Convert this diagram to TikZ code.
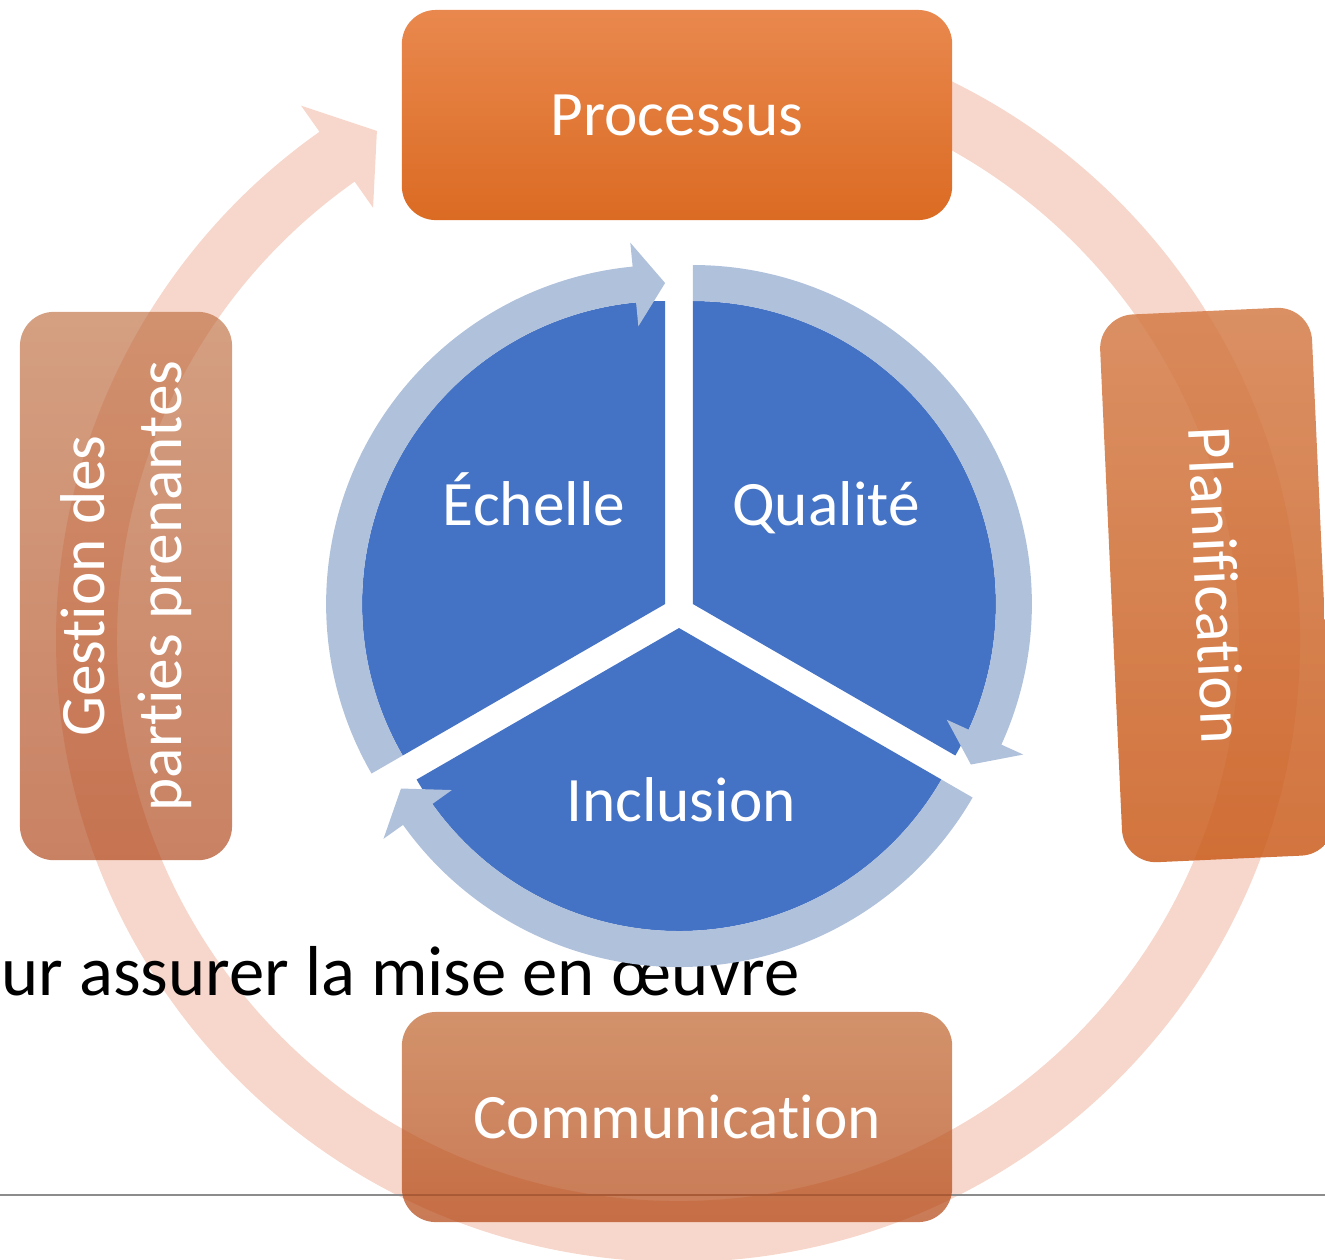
\documentclass[tikz,border=0pt]{standalone}
\usepackage{fontspec}
\setmainfont{Carlito}[Ligatures=NoCommon]
\usetikzlibrary{positioning}

\definecolor{ringpink}{RGB}{247,215,203}
\definecolor{pieblue}{RGB}{68,114,196}
\definecolor{arrowblue}{RGB}{176,193,220}
\definecolor{rulegray}{RGB}{140,140,140}
\definecolor{procTop}{RGB}{233,136,78}
\definecolor{procBot}{RGB}{219,107,35}
\definecolor{planTop}{RGB}{212,124,72}
\definecolor{planBot}{RGB}{202,92,28}
\definecolor{commTop}{RGB}{192,100,44}
\definecolor{commBot}{RGB}{178,66,14}
\definecolor{gestTop}{RGB}{190,108,62}
\definecolor{gestBot}{RGB}{172,62,16}

\begin{document}
\begin{tikzpicture}[x=0.01cm, y=0.01cm,
	box/.style={rectangle, rounded corners=0.34cm, inner sep=0pt, align=center,
		text=white, font=\fontsize{18}{22}\selectfont},
	wide/.style={box, minimum width=5.5cm, minimum height=2.1cm},
	tall/.style={box, minimum width=5.48cm, minimum height=2.12cm},
	pielabel/.style={text=white, font=\fontsize{18}{22}\selectfont, inner sep=0pt}]
\useasboundingbox (0,0) rectangle (1325,-1259);

% outer cycle arrow
\begin{scope}[shift={(678,-640)}]
\fill[ringpink] (90:622) arc[start angle=90, end angle=-234.8, radius=622]
	-- (-234.8:654) -- (-239.4:591.5) -- (-234.8:529)
	-- (-234.8:561) arc[start angle=-234.8, end angle=90, radius=561] -- cycle;
\end{scope}

\coordinate (rule w) at (0,-1195);
\coordinate (rule e) at (1325,-1195);
\draw[rulegray, line width=0.8pt] (rule w) -- (rule e);

\node[anchor=base west, inner sep=0pt, font=\fontsize{20.1}{24}\selectfont] (caption) at (1,-995) {ur assurer la mise en œuvre};

% pie
\foreach \b/\cx/\cy in {150/665.1/-604, 30/692.9/-604, 270/679/-628}{
	\begin{scope}[shift={(\cx,\cy)}]
	\pgfmathsetmacro\s{\b+60}
	\pgfmathsetmacro\e{\b-60}
	\fill[pieblue] (0,0) -- (\s:303) arc[start angle=\s, end angle=\e, radius=303] -- cycle;
	\end{scope}
}
\foreach \b/\cx/\cy in {150/665.1/-604, 30/692.9/-604, 270/679/-628}{
	\begin{scope}[shift={(\cx,\cy)}]
	\pgfmathsetmacro\s{\b+60}
	\pgfmathsetmacro\e{\b-60}
	\pgfmathsetmacro\h{\b-54.5}
	\fill[arrowblue] (\s:339) arc[start angle=\s, end angle=\h, radius=339]
		-- (\h:363) -- (\e:321) -- (\h:279)
		-- (\h:303) arc[start angle=\h, end angle=\s, radius=303] -- cycle;
	\end{scope}
}

\node[pielabel, anchor=base] (echelle) at (534,-525) {Échelle};
\node[pielabel, anchor=base] (qualite) at (826,-525) {Qualité};
\node[pielabel, anchor=base] (inclusion) at (681,-821) {Inclusion};

% boxes
\node[wide, top color=procTop, bottom color=procBot] (processus) at (677,-115) {Processus};
\node[tall, rotate=-87.4, top color=planTop, bottom color=planBot, fill opacity=0.85, text opacity=1] (planif) at (1217,-585) {Planification};
\node[wide, top color=commTop, bottom color=commBot, fill opacity=0.7, text opacity=1] (comm) at (677,-1117) {Communication};
\node[tall, rotate=90, top color=gestTop, bottom color=gestBot, fill opacity=0.65, text opacity=1] (gestion) at (126,-586) {Gestion des\\parties prenantes};
\end{tikzpicture}
\end{document}
